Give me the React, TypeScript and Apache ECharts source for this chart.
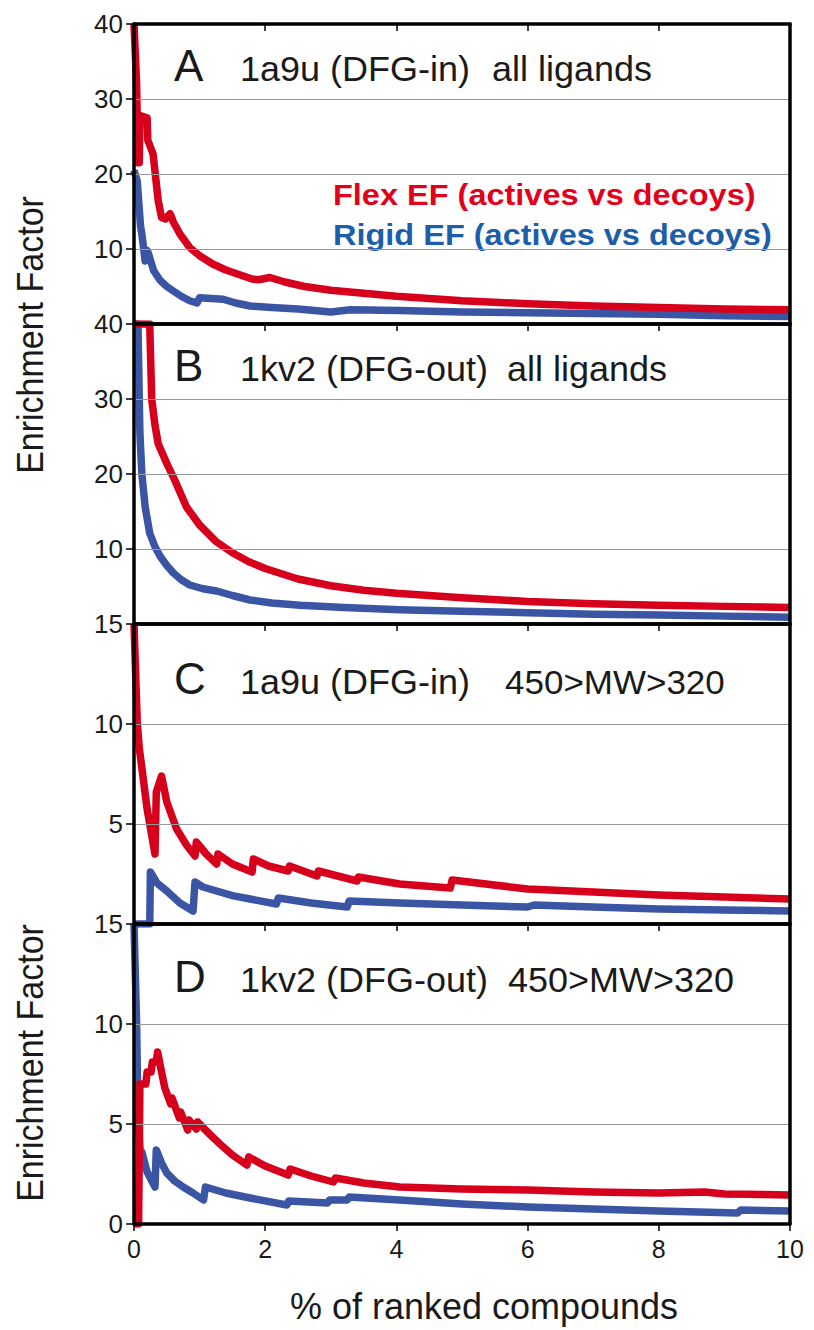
import React, { useEffect, useRef } from "react";
import * as echarts from "echarts";

// ---- Data (x = % of ranked compounds, y = enrichment factor) ----
const aFlexX = [0, 0.04, 0.06, 0.08, 0.09, 0.2, 0.21, 0.29, 0.37, 0.42, 0.48, 0.55, 0.6, 0.7, 0.85, 1.0, 1.2, 1.4, 1.6, 1.8, 1.9, 2.07, 2.3, 2.6, 3.0, 3.5, 4.0, 5, 6, 7, 8, 9, 10];
const aFlexY = [40, 32, 21.5, 21.5, 27.8, 27.5, 24.5, 22.7, 16.4, 14.2, 14.0, 14.7, 13.6, 12, 10.2, 9.1, 8.0, 7.2, 6.6, 6.0, 5.9, 6.2, 5.6, 5.0, 4.5, 4.1, 3.7, 3.1, 2.7, 2.4, 2.2, 2.0, 1.9];
const aRigidX = [0, 0.05, 0.1, 0.12, 0.17, 0.2, 0.22, 0.3, 0.4, 0.5, 0.6, 0.72, 0.85, 0.96, 1.0, 1.36, 1.55, 1.77, 2.1, 2.5, 3.0, 3.3, 4.05, 5, 6, 7, 8, 9, 10];
const aRigidY = [20.5, 19, 13, 12, 8.4, 9.8, 9.4, 7.1, 5.8, 5.0, 4.4, 3.7, 3.1, 2.8, 3.5, 3.3, 2.8, 2.4, 2.2, 2.0, 1.6, 1.9, 1.8, 1.6, 1.5, 1.4, 1.3, 1.1, 1.0];

const bFlexX = [0, 0.24, 0.27, 0.32, 0.37, 0.5, 0.62, 0.8, 1.0, 1.25, 1.5, 1.75, 2.0, 2.5, 3.0, 3.5, 4.0, 5, 6, 7, 8, 9, 10];
const bFlexY = [40, 40, 30, 26.5, 24, 21.4, 19.2, 15.6, 13.2, 11.0, 9.5, 8.3, 7.4, 6.0, 5.1, 4.5, 4.1, 3.5, 3.0, 2.7, 2.5, 2.35, 2.2];
const bRigidX = [0, 0.06, 0.09, 0.12, 0.17, 0.24, 0.32, 0.4, 0.5, 0.6, 0.72, 0.85, 1.05, 1.26, 1.5, 1.77, 2.1, 2.53, 3.2, 4.05, 5, 6, 7, 8, 9, 10];
const bRigidY = [40, 40, 25.4, 20, 15.6, 12.1, 10.3, 9, 7.8, 6.8, 5.9, 5.2, 4.7, 4.4, 3.8, 3.2, 2.8, 2.5, 2.2, 1.9, 1.7, 1.5, 1.3, 1.2, 1.05, 0.9];

const cFlexX = [0, 0.03, 0.05, 0.08, 0.12, 0.2, 0.32, 0.34, 0.42, 0.5, 0.65, 0.8, 0.93, 0.95, 1.1, 1.26, 1.28, 1.5, 1.8, 1.82, 2.05, 2.35, 2.37, 2.79, 2.81, 3.4, 3.42, 4.05, 4.82, 4.85, 6, 7, 8, 9, 10];
const cFlexY = [15, 12, 10.1, 8.8, 7.8, 5.75, 3.5, 6.6, 7.4, 6.1, 4.75, 3.95, 3.4, 4.1, 3.5, 3.0, 3.5, 3.0, 2.6, 3.25, 2.9, 2.65, 2.9, 2.4, 2.65, 2.15, 2.35, 2.0, 1.8, 2.2, 1.75, 1.6, 1.45, 1.35, 1.25];
const cRigidX = [0, 0.24, 0.25, 0.35, 0.5, 0.7, 0.9, 0.93, 1.05, 1.26, 1.5, 1.77, 2.17, 2.2, 2.7, 3.25, 3.28, 4.05, 5, 6, 6.1, 7, 8, 9, 10];
const cRigidY = [0, 0, 2.6, 2.05, 1.65, 1.05, 0.65, 2.1, 1.85, 1.65, 1.42, 1.25, 1.0, 1.3, 1.05, 0.85, 1.15, 1.05, 0.95, 0.85, 0.95, 0.85, 0.75, 0.7, 0.65];

const dFlexX = [0, 0.07, 0.09, 0.18, 0.2, 0.26, 0.28, 0.34, 0.36, 0.42, 0.47, 0.56, 0.58, 0.69, 0.71, 0.82, 0.84, 0.95, 0.97, 1.15, 1.31, 1.5, 1.72, 1.75, 2.0, 2.35, 2.38, 2.7, 3.04, 3.07, 3.5, 4.05, 5, 6, 7, 8, 8.7, 9, 10];
const dFlexY = [0, 0, 7.0, 7.0, 7.6, 7.6, 8.1, 8.1, 8.6, 7.6, 6.8, 6.0, 6.3, 5.3, 5.6, 4.7, 5.2, 4.75, 5.1, 4.5, 4.0, 3.45, 2.95, 3.35, 2.9, 2.45, 2.75, 2.4, 2.1, 2.3, 2.05, 1.85, 1.75, 1.7, 1.6, 1.55, 1.6, 1.5, 1.45];
const dRigidX = [0, 0.04, 0.06, 0.1, 0.12, 0.2, 0.32, 0.34, 0.42, 0.5, 0.62, 0.75, 0.9, 1.06, 1.09, 1.4, 1.77, 2.33, 2.36, 2.95, 2.98, 3.25, 3.28, 4.05, 5, 6, 7, 8, 9.2, 9.25, 10];
const dRigidY = [15, 10, 5.7, 3.2, 3.6, 2.6, 1.85, 3.7, 3.05, 2.55, 2.15, 1.85, 1.55, 1.2, 1.85, 1.55, 1.3, 0.95, 1.15, 1.05, 1.2, 1.2, 1.35, 1.2, 1.0, 0.85, 0.75, 0.65, 0.55, 0.7, 0.65];

const panelLetters = ["A", "B", "C", "D"];
const panelTitles = ["1a9u (DFG-in)", "1kv2 (DFG-out)", "1a9u (DFG-in)", "1kv2 (DFG-out)"];
const panelSubtitles = ["all ligands", "all ligands", "450>MW>320", "450>MW>320"];
const yMax = [40, 40, 15, 15];
const yInterval = [10, 10, 5, 5];
const xTickMax = 10;
const xTickInterval = 2;
const legendLabels = ["Flex EF (actives vs decoys)", "Rigid EF (actives vs decoys)"];
const yTitle = "Enrichment Factor";
const xTitle = "% of ranked compounds";

const RED = "#d6001c";
const BLUE = "#3a55a4";
const FONT = "'Liberation Sans', Arial, Helvetica, sans-serif";

const pair = (xs: number[], ys: number[]) => xs.map((x, i) => [x, ys[i]]);

export default function App() {
  const ref = useRef<HTMLDivElement>(null);
  useEffect(() => {
    if (!ref.current) return;
    const chart = echarts.init(ref.current, null, { renderer: "svg" });
    const tops = [24, 324, 624, 924];
    const H = 300;
    const border = { show: true, onZero: false, lineStyle: { color: "#000", width: 3.5 } };
    const grids = tops.map((t) => ({ left: 134, width: 656, top: t, height: H, containLabel: false }));
    const xAxes: any[] = [];
    const yAxes: any[] = [];
    tops.forEach((_, i) =>
      xAxes.push({
        type: "value",
        gridIndex: i,
        position: "top",
        min: 0,
        max: xTickMax,
        interval: xTickInterval,
        axisLine: border,
        axisTick: { show: true, inside: true, length: 7, lineStyle: { color: "#000", width: 1.5 } },
        axisLabel: { show: false },
        splitLine: { show: false },
        z: 5,
      })
    );
    tops.forEach((_, i) =>
      xAxes.push({
        type: "value",
        gridIndex: i,
        position: "bottom",
        min: 0,
        max: xTickMax,
        interval: xTickInterval,
        axisLine: border,
        axisTick: { show: i === 3, inside: false, length: 7, lineStyle: { color: "#000", width: 1.5 } },
        axisLabel: { show: i === 3, fontSize: 25, color: "#1a1a1a", fontFamily: FONT, margin: 12 },
        splitLine: { show: false },
        z: 5,
      })
    );
    tops.forEach((_, i) =>
      yAxes.push({
        type: "value",
        gridIndex: i,
        position: "left",
        min: 0,
        max: yMax[i],
        interval: yInterval[i],
        axisLine: border,
        axisTick: { show: true, inside: false, length: 8, lineStyle: { color: "#000", width: 1.5 } },
        axisLabel: {
          show: true,
          fontSize: 26,
          color: "#1a1a1a",
          fontFamily: FONT,
          margin: 11,
          showMinLabel: i === 3,
        },
        splitLine: { show: true, lineStyle: { color: "#9a9a9a", width: 1.2 } },
        z: 5,
      })
    );
    tops.forEach((_, i) =>
      yAxes.push({
        type: "value",
        gridIndex: i,
        position: "right",
        min: 0,
        max: yMax[i],
        interval: yInterval[i],
        axisLine: border,
        axisTick: { show: false },
        axisLabel: { show: false },
        splitLine: { show: false },
        z: 5,
      })
    );
    const flex = [pair(aFlexX, aFlexY), pair(bFlexX, bFlexY), pair(cFlexX, cFlexY), pair(dFlexX, dFlexY)];
    const rigid = [pair(aRigidX, aRigidY), pair(bRigidX, bRigidY), pair(cRigidX, cRigidY), pair(dRigidX, dRigidY)];
    const series: any[] = [];
    for (let i = 0; i < 4; i++) {
      series.push({
        type: "line",
        name: "Rigid" + i,
        xAxisIndex: i,
        yAxisIndex: i,
        data: rigid[i],
        showSymbol: false,
        clip: true,
        lineStyle: { color: BLUE, width: 7.5, join: "round" },
        z: 2,
      });
      series.push({
        type: "line",
        name: "Flex" + i,
        xAxisIndex: i,
        yAxisIndex: i,
        data: flex[i],
        showSymbol: false,
        clip: true,
        lineStyle: { color: RED, width: 7.5, join: "round" },
        z: 3,
      });
    }
    const titleBase = [57, 57, 70, 68];
    const subX = [492, 507, 505, 508];
    const subSize = [36, 36, 35, 36];
    const graphics: any[] = [];
    for (let i = 0; i < 4; i++) {
      const base = tops[i] + titleBase[i];
      graphics.push({
        type: "text",
        x: 174,
        y: base - 16,
        style: { text: panelLetters[i], font: `44px ${FONT}`, fill: "#1a1a1a", verticalAlign: "middle", align: "left" },
      });
      graphics.push({
        type: "text",
        x: 240,
        y: base - 12,
        scaleY: 0.95,
        style: { text: panelTitles[i], font: `36px ${FONT}`, fill: "#1a1a1a", verticalAlign: "middle", align: "left" },
      });
      graphics.push({
        type: "text",
        x: subX[i],
        y: base - 12,
        scaleY: 0.95,
        style: { text: panelSubtitles[i], font: `${subSize[i]}px ${FONT}`, fill: "#1a1a1a", verticalAlign: "middle", align: "left" },
      });
    }
    graphics.push({
      type: "text",
      x: 333,
      y: 195,
      scaleY: 0.9,
      style: { text: legendLabels[0], font: `bold 32.5px ${FONT}`, fill: "#e2001a", verticalAlign: "middle", align: "left" },
    });
    graphics.push({
      type: "text",
      x: 333,
      y: 235,
      scaleY: 0.9,
      style: { text: legendLabels[1], font: `bold 32.5px ${FONT}`, fill: "#1c5ea9", verticalAlign: "middle", align: "left" },
    });
    [335, 1063].forEach((cy) => {
      graphics.push({
        type: "text",
        x: 30,
        y: cy,
        rotation: Math.PI / 2,
        scaleY: 1.1,
        style: { text: yTitle, font: `34px ${FONT}`, fill: "#1a1a1a", verticalAlign: "middle", align: "center" },
      });
    });
    graphics.push({
      type: "text",
      x: 484,
      y: 1306,
      style: { text: xTitle, font: `36px ${FONT}`, fill: "#1a1a1a", verticalAlign: "middle", align: "center" },
    });

    chart.setOption({
      animation: false,
      backgroundColor: "#fff",
      grid: grids,
      xAxis: xAxes,
      yAxis: yAxes,
      series,
      graphic: graphics,
    });
    return () => chart.dispose();
  }, []);
  return <div ref={ref} style={{ position: "absolute", left: 0, top: 0, width: 814, height: 1330 }} />;
}
